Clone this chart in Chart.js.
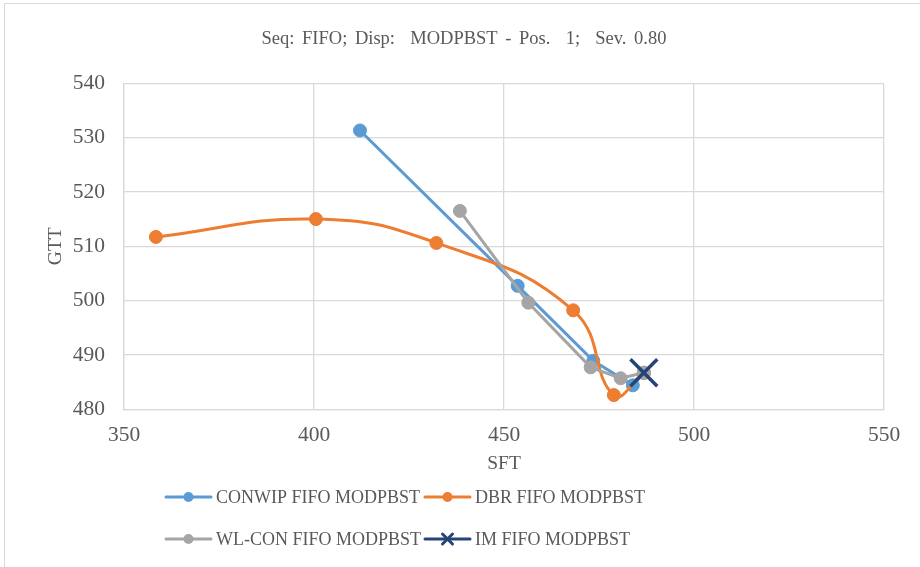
<!DOCTYPE html>
<html>
<head>
<meta charset="utf-8">
<script src="https://cdn.jsdelivr.net/npm/chart.js@4.4.1/dist/chart.umd.min.js"></script>
<style>
  html, body { margin: 0; padding: 0; background: #fff; overflow: hidden; }
  #wrap { width: 920px; height: 567px; overflow: hidden; position: relative; }
  #myChart { position: absolute; left: 0; top: 0; }
</style>
</head>
<body>
<div id="wrap"><canvas id="myChart" width="940" height="567"></canvas></div>
<script>
// values (SFT on x, GTT on y)
const conwipSft = [412.1, 453.6, 473.5, 483.9, 486.8];
const conwipGtt = [531.3, 502.7, 488.9, 484.4, 486.7];
const dbrSft = [358.4, 400.5, 432.2, 468.2, 478.9, 486.8];
const dbrGtt = [511.7, 515.0, 510.6, 498.2, 482.6, 486.7];
const wlconSft = [438.4, 456.4, 472.8, 480.7, 486.8];
const wlconGtt = [516.5, 499.6, 487.7, 485.7, 486.7];
const imSft = [486.8];
const imGtt = [486.7];

const seriesNames = ['CONWIP FIFO MODPBST', 'DBR FIFO MODPBST', 'WL-CON FIFO MODPBST', 'IM FIFO MODPBST'];
const xTicks = [350, 400, 450, 500, 550];
const yTicks = [480, 490, 500, 510, 520, 530, 540];

const textColor = '#595959';
const serif = '"Liberation Serif", "Times New Roman", serif';

function pts(xs, ys) {
  return xs.map((x, i) => ({ x: x, y: ys[i] }));
}

// border of the chart area + wider word gaps for the title
const frame = {
  id: 'frame',
  beforeDraw(chart) {
    const c = chart.ctx;
    c.save();
    c.fillStyle = '#fff';
    c.fillRect(0, 0, chart.width, chart.height);
    c.strokeStyle = '#d9d9d9';
    c.lineWidth = 1;
    c.strokeRect(4.5, 3.5, 2000, 2000);
    c.restore();
    c.wordSpacing = '3px';
  },
  beforeDatasetsDraw(chart) {
    chart.ctx.wordSpacing = '0px';
  }
};

// Excel style legend: line + marker, two per row
const excelLegend = {
  id: 'excelLegend',
  afterDraw(chart) {
    const c = chart.ctx;
    const cols = [166, 425];
    const rows = [497, 539];
    chart.data.datasets.forEach((ds, i) => {
      const x = cols[i % 2];
      const y = rows[Math.floor(i / 2)];
      c.save();
      c.strokeStyle = ds.borderColor;
      c.lineWidth = 3;
      c.lineCap = 'round';
      c.beginPath();
      c.moveTo(x, y);
      c.lineTo(x + 45, y);
      c.stroke();
      const mx = x + 22.5;
      if (ds.pointStyle === 'crossRot') {
        c.lineWidth = 3;
        c.beginPath();
        c.moveTo(mx - 5, y - 5); c.lineTo(mx + 5, y + 5);
        c.moveTo(mx - 5, y + 5); c.lineTo(mx + 5, y - 5);
        c.stroke();
      } else {
        c.fillStyle = ds.backgroundColor;
        c.beginPath();
        c.arc(mx, y, 5, 0, Math.PI * 2);
        c.fill();
      }
      c.fillStyle = textColor;
      c.font = '18px ' + serif;
      c.textBaseline = 'middle';
      c.fillText(ds.label, x + 50, y + 1);
      c.restore();
    });
  }
};

const ctx = document.getElementById('myChart');
const chart = new Chart(ctx, {
  type: 'line',
  data: {
    datasets: [
      {
        label: seriesNames[0],
        data: pts(conwipSft, conwipGtt),
        borderColor: '#5b9bd5',
        backgroundColor: '#5b9bd5',
        borderWidth: 3,
        pointRadius: 6.5,
        pointBorderWidth: 1,
        tension: 0,
        order: 4
      },
      {
        label: seriesNames[1],
        data: pts(dbrSft, dbrGtt),
        borderColor: '#ed7d31',
        backgroundColor: '#ed7d31',
        borderWidth: 3,
        pointRadius: 6.5,
        pointBorderWidth: 1,
        tension: 0.45,
        order: 3
      },
      {
        label: seriesNames[2],
        data: pts(wlconSft, wlconGtt),
        borderColor: '#a5a5a5',
        backgroundColor: '#a5a5a5',
        borderWidth: 3,
        pointRadius: 6.5,
        pointBorderWidth: 1,
        tension: 0,
        order: 2
      },
      {
        label: seriesNames[3],
        data: pts(imSft, imGtt),
        borderColor: '#264478',
        backgroundColor: '#264478',
        borderWidth: 3,
        pointStyle: 'crossRot',
        pointRadius: 19,
        pointBorderWidth: 3.5,
        order: 1
      }
    ]
  },
  options: {
    responsive: false,
    animation: false,
    layout: { padding: { left: 44, right: 56, top: 0, bottom: 91 } },
    plugins: {
      legend: { display: false },
      tooltip: { enabled: false },
      title: {
        display: true,
        text: 'Seq: FIFO; Disp:  MODPBST - Pos.  1;  Sev. 0.80',
        color: textColor,
        font: { family: serif, size: 18.5, weight: 'normal' },
        padding: { top: 28, bottom: 33 }
      }
    },
    scales: {
      x: {
        type: 'linear',
        min: 350,
        max: 550,
        afterBuildTicks: s => { s.ticks = xTicks.map(v => ({ value: v })); },
        afterFit: s => { s.height = 66.8; },
        grid: { color: '#d9d9d9', lineWidth: 1.3, drawTicks: false },
        border: { color: '#d9d9d9', width: 1.3 },
        ticks: { color: textColor, font: { family: serif, size: 21.5 }, padding: 13 },
        title: {
          display: true,
          text: 'SFT',
          color: textColor,
          font: { family: serif, size: 19.5 },
          padding: 0
        }
      },
      y: {
        min: 480,
        max: 540,
        afterBuildTicks: s => { s.ticks = yTicks.map(v => ({ value: v })); },
        afterFit: s => { s.width = 80; },
        grid: { color: '#d9d9d9', lineWidth: 1.3, drawTicks: false },
        border: { color: '#d9d9d9', width: 1.3 },
        ticks: { color: textColor, font: { family: serif, size: 21.5 }, padding: 19 },
        title: {
          display: true,
          text: 'GTT',
          color: textColor,
          font: { family: serif, size: 19.5 },
          padding: 0
        }
      }
    }
  },
  plugins: [frame, excelLegend]
});
</script>
</body>
</html>
